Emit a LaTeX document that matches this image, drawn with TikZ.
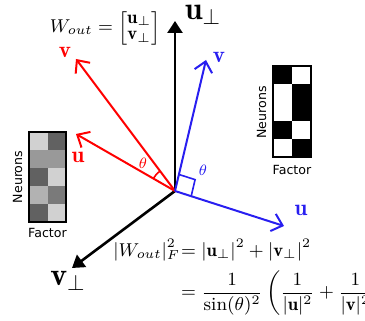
\RequirePackage{fix-cm}
\documentclass[tikz,border=0pt]{standalone}
\usepackage{amsmath,amssymb}
\usepackage{fontspec}
\newfontfamily\dejavu{DejaVu Sans}
\usetikzlibrary{arrows.meta,calc}
\definecolor{VecRed} {RGB}{255,0,0}
\definecolor{VecBlue}{RGB}{40,30,240}

\begin{document}
\begin{tikzpicture}[x=0.5pt,y=0.5pt,
  axisarrow/.style={line width=1.3pt,-{Triangle[length=6pt,width=7.5pt]}},
  vecarrow/.style={line width=1pt,-{Straight Barb[length=5pt,width=9pt]}},
  biglabel/.style={font=\fontsize{16}{18}\selectfont,inner sep=0pt},
  veclabel/.style={font=\fontsize{11.5}{13}\selectfont,inner sep=0pt},
  anglabel/.style={font=\fontsize{7.5}{9}\selectfont,inner sep=0pt},
  formula/.style={font=\fontsize{9.3}{11}\selectfont,inner sep=0pt},
  axname/.style={font=\dejavu\fontsize{6.3}{7.5}\selectfont,inner sep=0pt}]
\useasboundingbox (0,0) rectangle (365,321);
% vectors
\coordinate (O) at (175,130);
\coordinate (uperp) at (175,300);
\coordinate (vperp) at (72,53);
\coordinate (rv) at (76,262);
\coordinate (ru) at (76,187);
\coordinate (bv) at (206,261);
\coordinate (bu) at (284,95);
\draw[axisarrow] (O) -- (uperp);
\draw[axisarrow] (O) -- (vperp);
\draw[vecarrow,VecRed] (O) -- (rv);
\draw[vecarrow,VecRed] (O) -- (ru);
\draw[vecarrow,VecBlue] (O) -- (bv);
\draw[vecarrow,VecBlue] (O) -- (bu);
% angles
\draw[VecRed,line width=0.8pt] ($(O)+(150:25)$) arc[start angle=150,end angle=127,radius=25];
\draw[VecBlue,line width=0.8pt] ($(O)!8.5pt!(bv)$) -- ($(O)!8.5pt!(bv)+(O)!8.5pt!(bu)-(O)$) -- ($(O)!8.5pt!(bu)$);
\node[anglabel,text=VecRed] (thr) at (143,158) {$\theta$};
\node[anglabel,text=VecBlue] (thb) at (203,151) {$\theta$};
% labels
\node[biglabel] (luperp) at (203,306) {$\mathbf{u}_\perp$};
\node[biglabel] (lvperp) at (68,40) {$\mathbf{v}_\perp$};
\node[veclabel,text=VecRed] (lrv) at (65,269) {$\mathbf{v}$};
\node[veclabel,text=VecRed] (lru) at (78,164) {$\mathbf{u}$};
\node[veclabel,text=VecBlue] (lbv) at (219,264) {$\mathbf{v}$};
\node[veclabel,text=VecBlue] (lbu) at (301,111) {$\mathbf{u}$};
% formulas
\node[formula] (wout) at (105,293)
  {\renewcommand{\arraystretch}{0.75}$W_{out}=\begin{bmatrix}\mathbf{u}_\perp\\ \mathbf{v}_\perp\end{bmatrix}$};
\node[formula,anchor=west] (norm) at (113,44)
  {$\begin{aligned}|W_{out}|_F^2\mkern-4mu&=|\mathbf{u}_\perp|^2+|\mathbf{v}_\perp|^2\\
  &=\frac{1}{\sin(\theta)^2}\left(\frac{1}{|\mathbf{u}|^2}+\frac{1}{|\mathbf{v}|^2}\right)\end{aligned}$};
% left factor matrix
\foreach \r/\a/\b in {1/18/62,2/40/40,3/62/18,4/30/52,5/62/18}{
  \fill[black!\a] (29,{189-18*(\r-1)}) rectangle ++(18.5,-18);
  \fill[black!\b] (47.5,{189-18*(\r-1)}) rectangle ++(18.5,-18);
}
\draw[line width=0.6pt] (29,99) rectangle (66,189);
\node[axname,rotate=90] (neurl) at (17.5,144) {Neurons};
\node[axname] (factl) at (47.5,88) {Factor};
% right factor matrix
\foreach \r/\a/\b in {1/100/0,2/0/100,3/0/100,4/100/0,5/0/100}{
  \fill[black!\a] (273,{255-18.2*(\r-1)}) rectangle ++(19,-18.2);
  \fill[black!\b] (292,{255-18.2*(\r-1)}) rectangle ++(19,-18.2);
}
\draw[line width=0.6pt] (273,164) rectangle (311,255);
\node[axname,rotate=90] (neurr) at (261.5,208.5) {Neurons};
\node[axname] (factr) at (292,151) {Factor};
\end{tikzpicture}
\end{document}
